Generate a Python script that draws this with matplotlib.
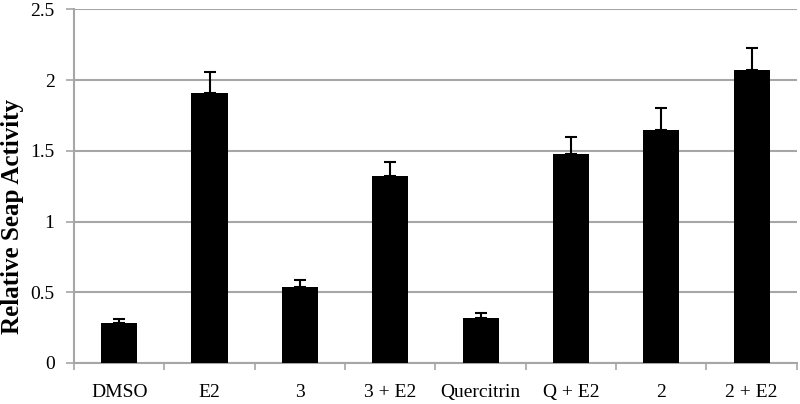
import matplotlib.pyplot as plt
import numpy as np

# Data
categories = ["DMSO", "E2", "3", "3 + E2", "Quercitrin", "Q + E2", "2", "2 + E2"]
activity = [0.28, 1.91, 0.54, 1.32, 0.32, 1.48, 1.65, 2.07]
errors = [0.03, 0.15, 0.045, 0.10, 0.035, 0.12, 0.15, 0.16]
y_ticks = [0, 0.5, 1, 1.5, 2, 2.5]
y_tick_labels = ["0", "0.5", "1", "1.5", "2", "2.5"]

GRID = "#a6a6a6"
plt.rcParams["font.family"] = ["Liberation Serif", "DejaVu Serif"]

fig = plt.figure(figsize=(8, 4.04), dpi=100)
ax = fig.add_axes([0.0925, 0.1015, 0.9035, 0.875])

x = np.arange(len(categories))
ax.bar(x, activity, width=0.4, color="black", zorder=3)
ax.errorbar(x, activity, yerr=[np.zeros(len(errors)), errors], fmt="none",
            ecolor="black", elinewidth=1.5, capsize=4.3, capthick=1.5, zorder=4)

ax.set_xlim(-0.5, len(categories) - 0.5)
ax.set_ylim(0, 2.5)

# category labels sit between boundary ticks
ax.set_xticks(x)
ax.set_xticklabels(categories, fontsize=14)
ax.set_xticks(np.arange(len(categories) + 1) - 0.5, minor=True)
ax.tick_params(axis="x", which="major", length=0, pad=15)
ax.tick_params(axis="x", which="minor", length=5, color=GRID, width=1.2)

ax.set_yticks(y_ticks)
ax.set_yticklabels(y_tick_labels, fontsize=14)
ax.tick_params(axis="y", length=6, color=GRID, width=1.2, pad=8)

ax.yaxis.grid(True, color=GRID, linewidth=1.5, zorder=0)
for side in ["top", "right"]:
    ax.spines[side].set_visible(False)
for side in ["left", "bottom"]:
    ax.spines[side].set_color(GRID)
    ax.spines[side].set_linewidth(1.5)

fig.text(13 / 800, 1 - 216 / 404, "Relative Seap Activity", rotation=90,
         ha="center", va="center", fontsize=18, fontweight="bold")

plt.savefig("out.png", dpi=100)
